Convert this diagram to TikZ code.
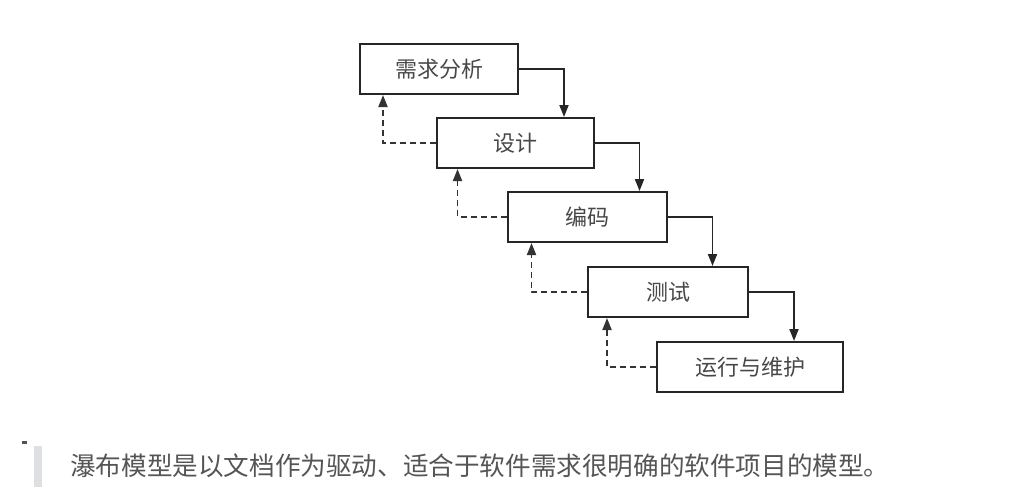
\documentclass[tikz,border=0pt]{standalone}
\usepackage{fontspec}
\newfontfamily\cjk{Noto Sans CJK SC}
\usetikzlibrary{arrows.meta}
\definecolor{capgray}{HTML}{555555}
\definecolor{bargray}{HTML}{DDDFE2}
\definecolor{markgray}{HTML}{4A5560}
\begin{document}
\begin{tikzpicture}[x=1pt,y=-1pt,
  stagebox/.style={draw=black!85,line width=2pt,minimum height=50pt,inner sep=0pt,
    font=\cjk\fontsize{22}{22}\selectfont,text=black!72},
  flow/.style={draw=black!85,line width=1.8pt,-{Triangle[length=12pt,width=9pt]}},
  back/.style={draw=black!80,line width=1.8pt,dash pattern=on 6pt off 4pt,
    -{Triangle[length=12pt,width=9pt]}}]
\useasboundingbox (0,0) rectangle (1028,493);

% the five stages
\node[stagebox,minimum width=158pt] (s1) at (439,69) {需求分析};
\node[stagebox,minimum width=157pt] (s2) at (515,143) {设计};
\node[stagebox,minimum width=159pt] (s3) at (587,217) {编码};
\node[stagebox,minimum width=160pt] (s4) at (668,292) {测试};
\node[stagebox,minimum width=186pt] (s5) at (750,367) {运行与维护};

% forward flow: out of the right side, down into the next stage
\foreach \a/\b in {s1/s2,s2/s3,s3/s4,s4/s5}{
  \coordinate (k\a) at ([xshift=45pt]\a.east);
  \draw[flow] (\a.east) -- (k\a) -- (k\a |- \b.north);
}

% feedback: out of the left side, back up to the previous stage
\foreach \a/\b/\d in {s2/s1/24,s3/s2/22,s4/s3/25,s5/s4/20}{
  \coordinate (d\a) at ([xshift=\d pt]\b.south west);
  \draw[back] (\a.west) -| (d\a);
}

% caption with quote bar
\node[fill=markgray,minimum width=5pt,minimum height=3pt,inner sep=0pt] (mark) at (24,442) {};
\node[fill=bargray,minimum width=8pt,minimum height=41pt,inner sep=0pt] (bar) at (37.5,466.5) {};
\node[anchor=west,inner sep=0pt,font=\cjk\fontsize{25.6}{25.6}\selectfont,text=capgray] (cap)
  at (70,466) {瀑布模型是以文档作为驱动、适合于软件需求很明确的软件项目的模型。};
\end{tikzpicture}
\end{document}
